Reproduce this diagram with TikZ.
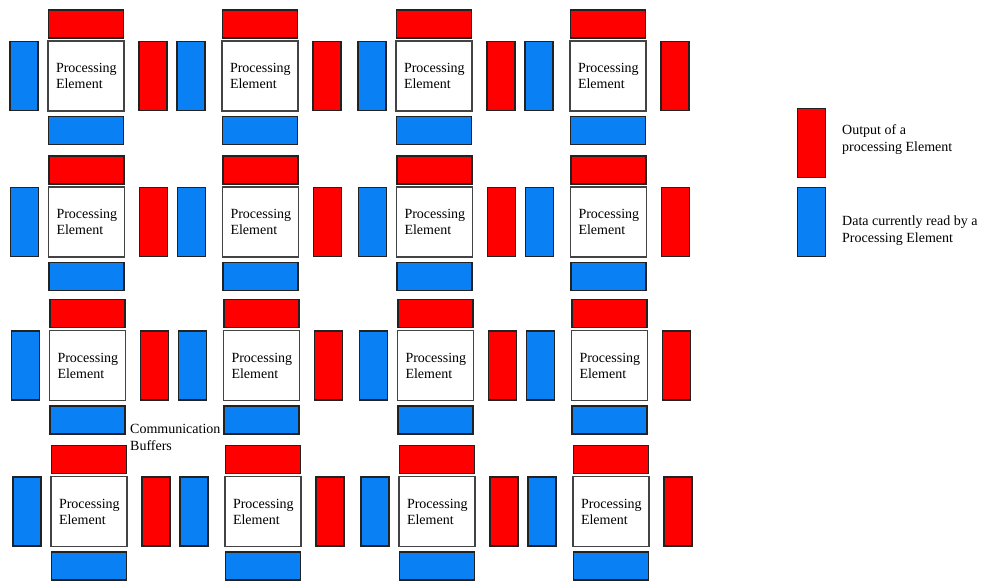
\documentclass[tikz,border=0pt]{standalone}
\usepackage{fontspec}
\setmainfont{Liberation Serif}
\usepackage{tikz}
\usetikzlibrary{positioning}
\definecolor{bufred}{HTML}{FF0000}
\definecolor{bufblue}{HTML}{0A80F5}
\definecolor{edge}{HTML}{222222}
\tikzset{
  pe/.style={draw=edge!85, fill=white, line width=1.4pt, minimum width=75pt,
             minimum height=70pt, text width=60pt, inner xsep=8pt, inner ysep=0pt,
             outer sep=0pt, align=left, font=\fontsize{14}{16}\selectfont},
  hbuf/.style={draw=edge, line width=1.4pt, minimum width=75pt, minimum height=28pt,
               inner sep=0pt, outer sep=0pt},
  vbuf/.style={draw=edge, line width=1.4pt, minimum width=28pt, minimum height=69pt,
               inner sep=0pt, outer sep=0pt},
  outbuf/.style={fill=bufred},
  inbuf/.style={fill=bufblue},
  keytext/.style={anchor=west, inner sep=0pt, align=left,
                  font=\fontsize{14}{17}\selectfont},
}
\begin{document}
\begin{tikzpicture}[x=1pt, y=-1pt]
  \useasboundingbox (0,0) rectangle (984,582);

  % grid of processing elements with their buffers
  \foreach \r/\dx/\ty in {1/0/40, 2/0.5/186, 3/1.5/329.5, 4/3/475.5} {
    \foreach \c/\gap in {1/10, 2/17, 3/10, 4/17} {
      \node[pe] (pe-\r-\c) at ({48+174*(\c-1)+\dx+38}, {\ty+36}) {Processing\\Element};
      \node[hbuf, outbuf, above=3pt of pe-\r-\c] (top-\r-\c) {};
      \node[hbuf, inbuf, below=5.5pt of pe-\r-\c] (bot-\r-\c) {};
      \node[vbuf, inbuf, left=\gap pt of pe-\r-\c] (lft-\r-\c) {};
      \node[vbuf, outbuf, right=15pt of pe-\r-\c] (rgt-\r-\c) {};
    }
  }

  \node[keytext] (comm) at (130,437) {Communication\\Buffers};

  % legend
  \node[vbuf, outbuf] (key-out) at (811.5,143) {};
  \node[vbuf, inbuf, below=10pt of key-out] (key-in) {};
  \node[keytext] (key-out-txt) at (842,140) {Output of a\\processing Element};
  \node[keytext] (key-in-txt) at (842,231) {Data currently read by a\\Processing Element};
\end{tikzpicture}
\end{document}
